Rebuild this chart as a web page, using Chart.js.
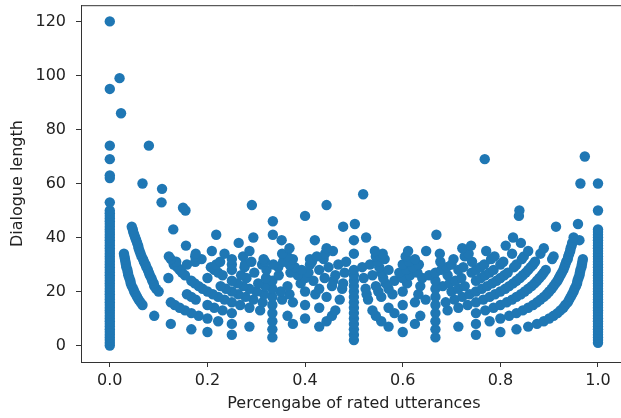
<!DOCTYPE html>
<html lang="en">
<head>
    <meta charset="UTF-8">
    <title>Dialogue length vs rated utterances</title>
    <script src="https://cdn.jsdelivr.net/npm/chart.js"></script>
    <style>
        html, body { margin: 0; padding: 0; background: #fff; overflow: hidden; }
        #wrap { width: 632px; height: 418px; }
    </style>
</head>
<body>
    <div id="wrap"><canvas id="scatterChart" width="632" height="418"></canvas></div>
    <script>
        // dialogue lengths (y) and, for each, the share of rated utterances (x) seen at that length
        const dialogueLengths = [
            0, 1, 2, 3, 4, 5, 6, 7, 8, 9, 10, 11, 12, 13, 14, 15, 16, 17, 18, 19, 20, 21, 22,
            23, 24, 25, 26, 27, 28, 29, 30, 31, 32, 33, 34, 35, 36, 37, 38, 39, 40,
            41, 42, 43, 44, 45, 46, 47, 48, 49, 50, 51, 52, 53, 56, 58, 60, 62, 63, 69, 70, 74, 86, 95, 99, 120
        ];
        const ratedShares = [
            [0],
            [0, 1],
            [0, .5, 1],
            [0, .333, .667, 1],
            [0, .25, .5, .75, 1],
            [0, .2, .6, .8, 1],
            [0, .167, .333, .5, .667, .833, 1],
            [0, .286, .429, .571, .714, .857, 1],
            [0, .125, .25, .375, .5, .625, .75, .875, 1],
            [0, .222, .333, .444, .556, .667, .778, .889, 1],
            [0, .2, .4, .5, .6, .8, .9, 1],
            [0, .091, .182, .364, .455, .545, .636, .818, .909, 1],
            [0, .167, .25, .333, .5, .583, .667, .75, .833, .917, 1],
            [0, .154, .231, .308, .462, .538, .692, .769, .846, .923, 1],
            [0, .143, .214, .286, .429, .5, .571, .714, .786, .857, .929, 1],
            [0, .067, .133, .2, .267, .333, .4, .6, .667, .733, .8, .867, .933, 1],
            [0, .063, .125, .25, .313, .375, .5, .625, .688, .75, .813, .875, .938, 1],
            [0, .059, .176, .235, .294, .353, .471, .529, .647, .706, .765, .824, .882, .941, 1],
            [0, .056, .167, .222, .278, .333, .444, .5, .556, .667, .722, .778, .833, .889, .944, 1],
            [0, .053, .158, .211, .263, .316, .368, .421, .526, .579, .632, .737, .789, .842, .895, .947, 1],
            [0, .05, .1, .2, .25, .3, .35, .4, .5, .55, .6, .7, .75, .8, .85, .9, .95, 1],
            [0, .048, .095, .19, .238, .286, .333, .429, .476, .524, .571, .667, .714, .762, .81, .857, .905, .952, 1],
            [0, .045, .091, .182, .227, .273, .318, .364, .455, .5, .545, .636, .682, .727, .773, .818, .864, .909, .955, 1],
            [0, .043, .09, .174, .261, .304, .391, .478, .565, .609, .696, .783, .826, .87, .913, .957, 1],
            [0, .042, .087, .167, .25, .333, .417, .458, .5, .583, .667, .708, .75, .792, .833, .875, .917, .958, 1],
            [0, .04, .085, .12, .2, .28, .32, .4, .44, .52, .56, .6, .64, .72, .76, .8, .84, .88, .92, .96, 1],
            [0, .038, .082, .154, .231, .269, .346, .385, .462, .5, .538, .615, .654, .692, .769, .808, .846, .885, .923, .962, 1],
            [0, .037, .08, .148, .222, .296, .37, .407, .481, .556, .593, .63, .667, .741, .778, .815, .852, .889, .926, .963, 1],
            [0, .036, .078, .143, .214, .25, .321, .393, .429, .5, .571, .607, .679, .714, .75, .786, .857, .893, .929, .964, 1],
            [0, .034, .075, .138, .207, .276, .345, .379, .448, .517, .552, .621, .69, .724, .759, .828, .862, .931, .966, 1],
            [0, .033, .073, .131, .158, .218, .25, .277, .312, .335, .368, .41, .468, .533, .6, .633, .7, .767, .8, .833, .867, .933, .967, 1],
            [0, .032, .07, .136, .175, .226, .29, .318, .355, .414, .484, .548, .613, .677, .742, .806, .871, .935, .968, 1],
            [0, .031, .068, .125, .188, .25, .315, .375, .41, .438, .563, .625, .704, .781, .844, .906, .938, .969, 1],
            [0, .03, .065, .121, .175, .273, .364, .424, .545, .555, .606, .727, .788, .848, .909, .939, 1],
            [0, .029, .063, .176, .235, .353, .441, .5, .559, .676, .735, .824, .882, .941, 1],
            [0, .061, .209, .286, .457, .543, .611, .648, .771, .857, .943, 1],
            [0, .059, .368, .444, .722, .889, .944, 1],
            [0, .058, .156, .74, .811, .946, 1],
            [0, .056, .264, .842, .947, 1],
            [0, .054, .352, .42, .5, .962, 1],
            [0, .052, .294, .525, .826, .95, 1],
            [0, .05, .218, .334, .669, 1],
            [0, .048, 1],
            [0, .047, .13, 1],
            [0, .045, .478, .914],
            [0, .502, .959],
            [0, .334],
            [0],
            [0, .4, .838],
            [0],
            [0, .155, .839, 1],
            [.15],
            [.291, .444],
            [0, .106],
            [.519],
            [.107],
            [.067, .964, 1],
            [0],
            [0],
            [0, .768],
            [.973],
            [0, .08],
            [.023],
            [0],
            [.02],
            [0]
        ];

        const xTicks = [0, 0.2, 0.4, 0.6, 0.8, 1.0];
        const yTicks = [0, 20, 40, 60, 80, 100, 120];

        const points = [];
        dialogueLengths.forEach((len, i) => {
            ratedShares[i].forEach(share => points.push({ x: share, y: len }));
        });

        const fontFamily = '"DejaVu Sans", sans-serif';
        const textColor = '#222';
        const axisColor = '#333';

        // matplotlib draws a full box round the axes
        const boxPlugin = {
            id: 'box',
            afterDraw(chart) {
                const { ctx, chartArea } = chart;
                ctx.save();
                ctx.strokeStyle = axisColor;
                ctx.lineWidth = 1;
                ctx.beginPath();
                ctx.moveTo(chartArea.left, chartArea.top + 0.5);
                ctx.lineTo(chartArea.right, chartArea.top + 0.5);
                ctx.lineTo(chartArea.right - 0.5, chartArea.bottom);
                ctx.stroke();
                ctx.restore();
            }
        };

        new Chart(document.getElementById('scatterChart'), {
            type: 'scatter',
            data: {
                datasets: [{
                    data: points,
                    backgroundColor: '#1f77b4',
                    borderWidth: 0,
                    pointRadius: 5.2,
                    pointHoverRadius: 5.2
                }]
            },
            options: {
                responsive: false,
                animation: false,
                layout: { padding: { top: 4, right: 5, left: 0, bottom: 0 } },
                plugins: {
                    legend: { display: false },
                    tooltip: { enabled: false }
                },
                scales: {
                    x: {
                        type: 'linear',
                        min: -0.059,
                        max: 1.059,
                        afterBuildTicks: scale => { scale.ticks = xTicks.map(v => ({ value: v })); },
                        afterFit: scale => {
                            scale.height = 56;
                            scale.paddingLeft = 0;
                            scale.paddingRight = 0;
                        },
                        ticks: {
                            callback: v => v.toFixed(1),
                            color: textColor,
                            font: { family: fontFamily, size: 16 },
                            padding: 4,
                            maxRotation: 0
                        },
                        grid: { drawOnChartArea: false, drawTicks: true, tickLength: 5, tickColor: axisColor },
                        border: { display: true, color: axisColor, width: 1 },
                        title: {
                            display: true,
                            text: 'Percengabe of rated utterances',
                            color: textColor,
                            font: { family: fontFamily, size: 16 },
                            padding: { top: 0, bottom: 5 }
                        }
                    },
                    y: {
                        type: 'linear',
                        min: -6.1,
                        max: 126,
                        afterBuildTicks: scale => { scale.ticks = yTicks.map(v => ({ value: v })); },
                        afterFit: scale => {
                            scale.width = 81;
                            scale.paddingTop = 0;
                            scale.paddingBottom = 0;
                        },
                        ticks: {
                            callback: v => String(v),
                            color: textColor,
                            font: { family: fontFamily, size: 16 },
                            padding: 10
                        },
                        grid: { drawOnChartArea: false, drawTicks: true, tickLength: 5, tickColor: axisColor },
                        border: { display: true, color: axisColor, width: 1 },
                        title: {
                            display: true,
                            text: 'Dialogue length',
                            color: textColor,
                            font: { family: fontFamily, size: 16 },
                            padding: { top: 8, bottom: 0 }
                        }
                    }
                }
            },
            plugins: [boxPlugin]
        });
    </script>
</body>
</html>
